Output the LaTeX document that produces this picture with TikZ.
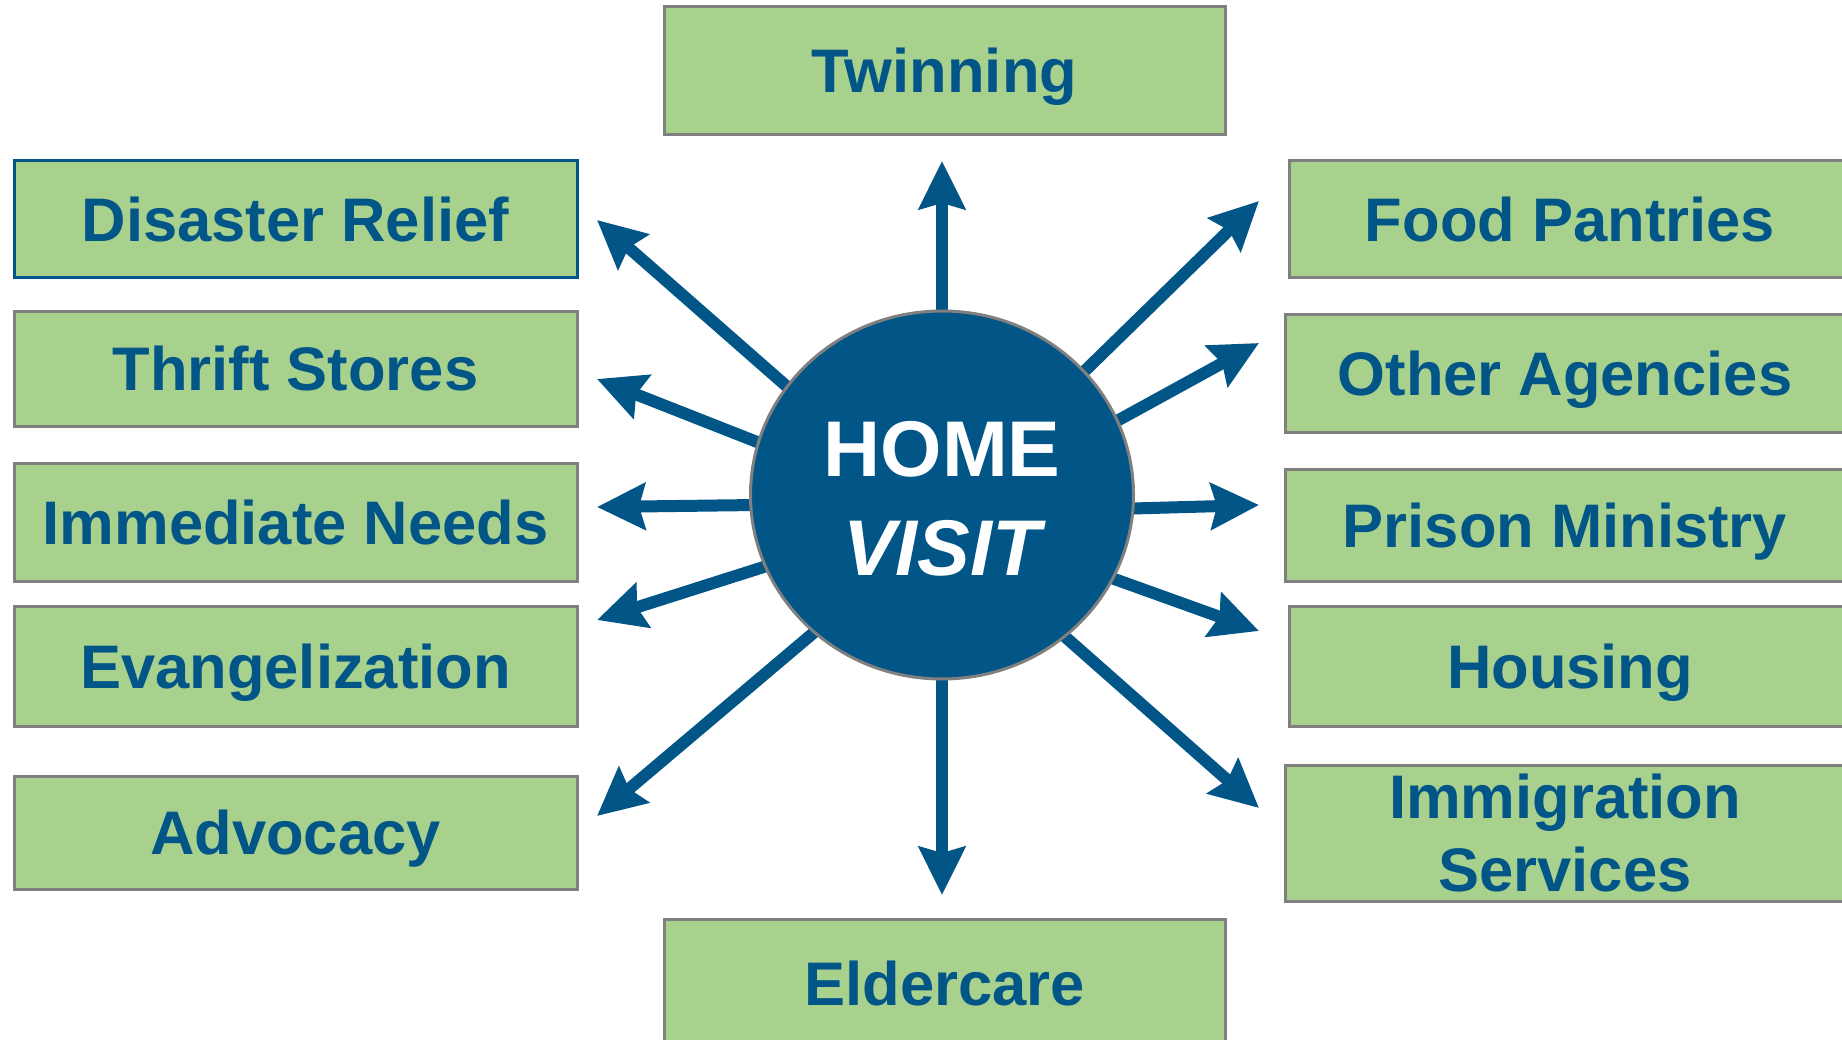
\documentclass[tikz,border=0pt]{standalone}
\usepackage{fontspec}
\setmainfont{Liberation Sans}
\usetikzlibrary{arrows.meta,backgrounds,shapes.geometric}
\definecolor{svdpblue}{HTML}{025587}
\definecolor{boxgreen}{HTML}{A9D18E}
\definecolor{rimgray}{HTML}{808080}
\tikzset{
  svbox/.style={rectangle, draw=rimgray, line width=3pt, fill=boxgreen, text=svdpblue,
    font=\fontsize{61.5}{73}\selectfont\bfseries, align=center, inner sep=0pt},
  oneline/.style={text height=44pt, text depth=0pt},
  ray/.style={draw=svdpblue, line width=12pt, shorten <=-12pt,
    -{Stealth[length=48pt,width=46pt,inset=6pt]}},
}
\begin{document}
\begin{tikzpicture}[x=1pt,y=-1pt]
\clip (0,0) rectangle (1842,1040);
% boxes
\node[svbox, oneline, minimum width=561pt, minimum height=128pt] (twin) at (944.5,71) {Twinning};
\node[svbox, oneline, minimum width=561pt, minimum height=128pt] (elder) at (944.5,983) {Eldercare};
\node[svbox, oneline, draw=svdpblue, minimum width=563pt, minimum height=117pt] (disaster) at (295.5,219.5) {Disaster Relief};
\node[svbox, oneline, minimum width=563pt, minimum height=114pt] (thrift) at (295.5,369) {Thrift Stores};
\node[svbox, oneline, minimum width=563pt, minimum height=118pt] (immediate) at (295.5,522) {Immediate Needs};
\node[svbox, oneline, minimum width=563pt, minimum height=120pt] (evang) at (295.5,666) {Evangelization};
\node[svbox, oneline, minimum width=563pt, minimum height=113pt] (advocacy) at (295.5,832.5) {Advocacy};
\node[svbox, oneline, minimum width=562pt, minimum height=117pt] (food) at (1570,219.5) {Food Pantries};
\node[svbox, oneline, minimum width=560pt, minimum height=117pt] (other) at (1565,373.5) {Other Agencies};
\node[svbox, oneline, minimum width=560pt, minimum height=112pt] (prison) at (1565,525) {Prison Ministry};
\node[svbox, oneline, minimum width=562pt, minimum height=120pt] (housing) at (1570,666) {Housing};
\node[svbox, minimum width=560pt, minimum height=136pt] (immig) at (1565,833) {Immigration\\Services};
% centre
\node[ellipse, draw=rimgray, line width=3pt, fill=svdpblue, minimum width=383pt, minimum height=368pt,
  inner sep=0pt] (hv) at (942,495) {};
\node[text=white, align=center, inner sep=0pt, font=\fontsize{79}{99}\selectfont\bfseries]
  (hvtext) at ([yshift=-4pt]hv.center) {HOME\\{\itshape VISIT}};
% arrow tips
\coordinate (tUp) at (942,161);
\coordinate (tDown) at (942,895);
\coordinate (tDR) at (597,220);
\coordinate (tTS) at (597,379);
\coordinate (tIN) at (597,507);
\coordinate (tEV) at (597,620);
\coordinate (tAD) at (597,816);
\coordinate (tFP) at (1259,201);
\coordinate (tOA) at (1259,343);
\coordinate (tPM) at (1259,505);
\coordinate (tHO) at (1259,631);
\coordinate (tIS) at (1259,808);
\begin{pgfonlayer}{background}
\draw[ray] (hv.90) -- (tUp);
\draw[ray] (hv.270) -- (tDown);
\draw[ray] (hv.145) -- (tDR);
\draw[ray] (hv.164.5) -- (tTS);
\draw[ray] (hv.183.6) -- (tIN);
\draw[ray] (hv.202) -- (tEV);
\draw[ray] (hv.227) -- (tAD);
\draw[ray] (hv.41.3) -- (tFP);
\draw[ray] (hv.23.9) -- (tOA);
\draw[ray] (hv.356.4) -- (tPM);
\draw[ray] (hv.334) -- (tHO);
\draw[ray] (hv.311.5) -- (tIS);
\end{pgfonlayer}
\end{tikzpicture}
\end{document}
